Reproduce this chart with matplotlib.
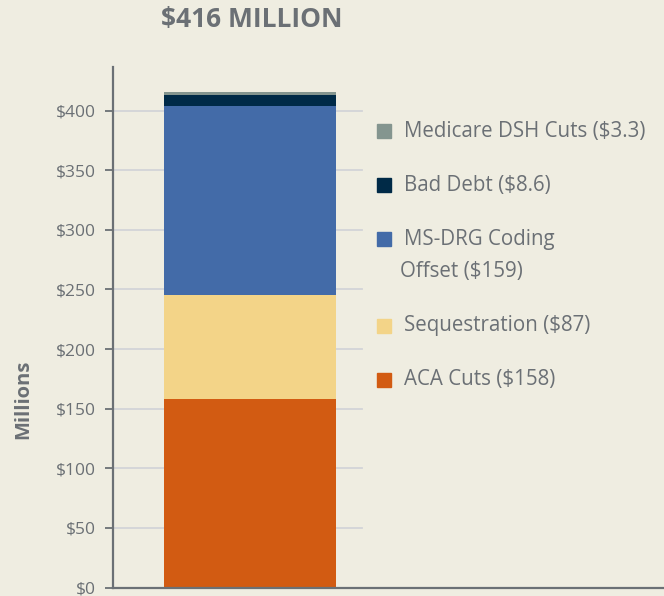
import matplotlib.pyplot as plt
from matplotlib.patches import Rectangle

plt.rcParams['font.family'] = ['Open Sans', 'DejaVu Sans']

# data
categories = ["ACA Cuts", "Sequestration", "MS-DRG Coding Offset", "Bad Debt", "Medicare DSH Cuts"]
values = [158, 87, 159, 8.6, 3.3]
colors = ["#D25B12", "#F3D488", "#436BA8", "#002A47", "#84958F"]
legend_labels = ["ACA Cuts ($158)", "Sequestration ($87)", "MS-DRG Coding\nOffset ($159)",
                 "Bad Debt ($8.6)", "Medicare DSH Cuts ($3.3)"]
yticks = [0, 50, 100, 150, 200, 250, 300, 350, 400]
ytick_labels = ["$" + str(t) for t in yticks]

bg = "#EFEDE1"
axis_col = "#6B7075"
text_col = "#6B7075"

W, H = 664, 596
fig = plt.figure(figsize=(W / 100, H / 100), dpi=100, facecolor=bg)
ax = fig.add_axes((113 / W, 8.5 / H, 1 - 113 / W, (587.5 - 67) / H))
ax.set_facecolor(bg)

bottom = 0
for v, c in zip(values, colors):
    ax.bar(0, v, width=1, bottom=bottom, color=c, zorder=3)
    bottom += v

ax.set_xlim(-137 / 172, (551 - 137) / 172)
ax.set_ylim(0, 436.5)

for t in yticks[1:]:
    ax.axhline(t, xmin=0, xmax=(362 - 113) / 551, color="#D3D4D8", lw=1.3, zorder=1)

ax.set_yticks(yticks)
ax.set_yticklabels(ytick_labels)
ax.set_xticks([])
ax.tick_params(axis='y', length=6, width=1.3, color=axis_col, labelcolor=text_col,
               labelsize=12.5, pad=6)
for s in ["top", "right"]:
    ax.spines[s].set_visible(False)
for s in ["left", "bottom"]:
    ax.spines[s].set_color(axis_col)
    ax.spines[s].set_linewidth(1.6)
    ax.spines[s].set_zorder(4)

ax.set_ylabel("Millions", fontsize=14.5, fontweight='bold', color=text_col)
ax.yaxis.set_label_coords(-80 / 551, (587.5 - 399.5) / 520.5)

fig.text(252 / W, 1 - 20 / H, "$416 MILLION", fontsize=19, fontweight='bold',
         color=text_col, ha='center', va='center')

# legend drawn by hand, top entry first
rows = [380, 326, 239, 185, 131]
for lab, c, yc in zip(legend_labels, colors, rows):
    fig.add_artist(Rectangle((377 / W, 1 - (yc + 7) / H), 14 / W, 14 / H,
                             transform=fig.transFigure, color=c))
    lines = lab.split("\n")
    fig.text(404 / W, 1 - yc / H, lines[0], fontsize=14.8, color=text_col,
             ha='left', va='center')
    if len(lines) > 1:
        fig.text(400 / W, 1 - (yc + 33) / H, lines[1], fontsize=14.8, color=text_col,
                 ha='left', va='center')

fig.savefig("out.png", dpi=100, facecolor=bg)
